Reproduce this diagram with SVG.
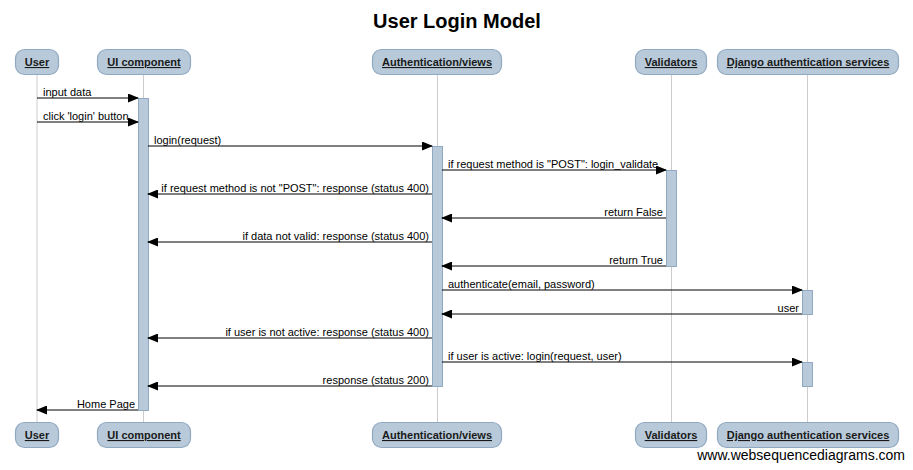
<svg xmlns="http://www.w3.org/2000/svg" width="913" height="470" viewBox="0 0 913 470">
<defs>
<style>
.life{stroke:#cccccc;stroke-width:1;fill:none}
.box{fill:#b8cad9;stroke:#90a8c2;stroke-width:1.2}
.bl{font-family:"Liberation Sans",Arial,sans-serif;font-size:11px;font-weight:bold;text-decoration:underline;fill:#1a1a1a;text-anchor:middle}
.act{fill:#b8cad9;stroke:#90a8c2;stroke-width:1}
.msg{stroke:#000;stroke-width:1.2;fill:none;marker-end:url(#ah)}
.t{font-family:"Liberation Sans",Arial,sans-serif;font-size:11px;fill:#000}
.r{text-anchor:end}
</style>
<marker id="ah" markerWidth="11" markerHeight="9" refX="10" refY="4.5" orient="auto" markerUnits="userSpaceOnUse">
<path d="M0,0 L11,4.5 L0,9 Z" fill="#000"/>
</marker>
</defs>
<rect width="913" height="470" fill="#fff"/>
<text x="457" y="28" font-family="'Liberation Sans',Arial,sans-serif" font-size="20" font-weight="bold" text-anchor="middle" fill="#000">User Login Model</text>

<g id="lifelines">
<line class="life" x1="37" y1="75" x2="37" y2="422"/>
<line class="life" x1="143.5" y1="75" x2="143.5" y2="422"/>
<line class="life" x1="437.5" y1="75" x2="437.5" y2="422"/>
<line class="life" x1="671.5" y1="75" x2="671.5" y2="422"/>
<line class="life" x1="807.5" y1="75" x2="807.5" y2="422"/>
</g>

<g id="user">
<rect class="box" x="15.5" y="49.5" width="43" height="25" rx="9"/>
<text class="bl" x="37" y="66">User</text>
<rect class="box" x="15.5" y="422.5" width="43" height="25" rx="9"/>
<text class="bl" x="37" y="439">User</text>
</g>
<g id="ui">
<rect class="box" x="97.5" y="49.5" width="93" height="25" rx="9"/>
<text class="bl" x="144" y="66">UI component</text>
<rect class="box" x="97.5" y="422.5" width="93" height="25" rx="9"/>
<text class="bl" x="144" y="439">UI component</text>
</g>
<g id="auth">
<rect class="box" x="372.5" y="49.5" width="129" height="25" rx="9"/>
<text class="bl" x="437" y="66">Authentication/views</text>
<rect class="box" x="372.5" y="422.5" width="129" height="25" rx="9"/>
<text class="bl" x="437" y="439">Authentication/views</text>
</g>
<g id="validators">
<rect class="box" x="635.5" y="49.5" width="71" height="25" rx="9"/>
<text class="bl" x="671" y="66">Validators</text>
<rect class="box" x="635.5" y="422.5" width="71" height="25" rx="9"/>
<text class="bl" x="671" y="439">Validators</text>
</g>
<g id="django">
<rect class="box" x="717.5" y="49.5" width="181" height="25" rx="9"/>
<text class="bl" x="808" y="66">Django authentication services</text>
<rect class="box" x="717.5" y="422.5" width="181" height="25" rx="9"/>
<text class="bl" x="808" y="439">Django authentication services</text>
</g>

<g id="activations">
<rect class="act" x="138.5" y="98.5" width="10" height="312"/>
<rect class="act" x="432.5" y="146.5" width="10" height="240"/>
<rect class="act" x="666.5" y="170.5" width="10" height="96"/>
<rect class="act" x="802.5" y="290.5" width="10" height="24"/>
<rect class="act" x="802.5" y="362.5" width="10" height="24"/>
</g>

<g id="connectors">
<line class="msg" x1="37" y1="98" x2="138" y2="98"/>
<text class="t" x="43" y="96">input data</text>
<line class="msg" x1="37" y1="122" x2="138" y2="122"/>
<text class="t" x="43" y="120">click 'login' button</text>
<line class="msg" x1="148" y1="146" x2="432" y2="146"/>
<text class="t" x="154" y="144">login(request)</text>
<line class="msg" x1="442" y1="170" x2="666" y2="170"/>
<text class="t" x="448" y="168">if request method is "POST": login_validate</text>
<line class="msg" x1="432" y1="194" x2="148" y2="194"/>
<text class="t r" x="429" y="192">if request method is not "POST": response (status 400)</text>
<line class="msg" x1="666" y1="218" x2="442" y2="218"/>
<text class="t r" x="663" y="216">return False</text>
<line class="msg" x1="432" y1="242" x2="148" y2="242"/>
<text class="t r" x="429" y="240">if data not valid: response (status 400)</text>
<line class="msg" x1="666" y1="266" x2="442" y2="266"/>
<text class="t r" x="663" y="264">return True</text>
<line class="msg" x1="442" y1="290" x2="802" y2="290"/>
<text class="t" x="448" y="288">authenticate(email, password)</text>
<line class="msg" x1="802" y1="314" x2="442" y2="314"/>
<text class="t r" x="799" y="312">user</text>
<line class="msg" x1="432" y1="338" x2="148" y2="338"/>
<text class="t r" x="429" y="336">if user is not active: response (status 400)</text>
<line class="msg" x1="442" y1="362" x2="802" y2="362"/>
<text class="t" x="448" y="360">if user is active: login(request, user)</text>
<line class="msg" x1="432" y1="386" x2="148" y2="386"/>
<text class="t r" x="429" y="384">response (status 200)</text>
<line class="msg" x1="138" y1="410" x2="37" y2="410"/>
<text class="t r" x="135" y="408">Home Page</text>
</g>

<text x="905" y="460" font-family="'Liberation Sans',Arial,sans-serif" font-size="14" text-anchor="end" fill="#000">www.websequencediagrams.com</text>
</svg>
